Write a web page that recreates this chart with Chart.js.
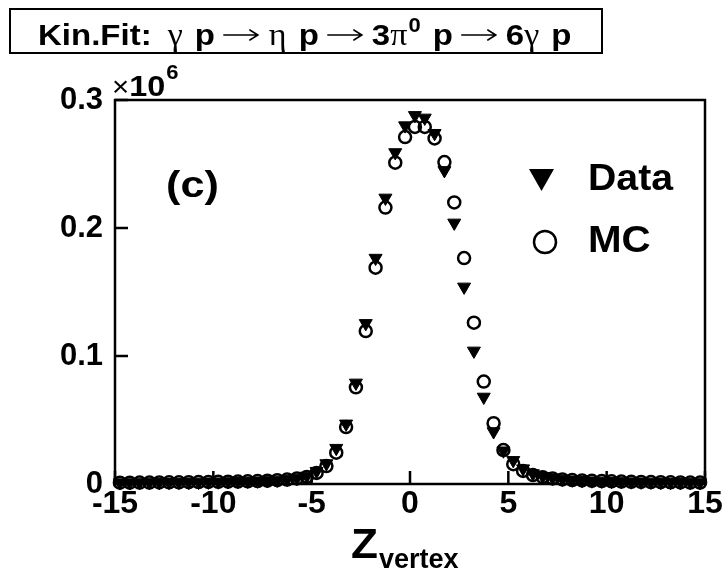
<!DOCTYPE html>
<html>
<head>
<meta charset="utf-8">
<script src="https://cdn.jsdelivr.net/npm/chart.js@4.4.1/dist/chart.umd.min.js"></script>
<style>
  html, body { margin: 0; padding: 0; background: #fff; }
  #zChart { display: block; }
</style>
</head>
<body>
<canvas id="zChart" width="724" height="575"></canvas>
<script>
// Bin centres of the z-vertex histogram (0.5 wide bins)
var zBins = [
  -14.75, -14.25, -13.75, -13.25, -12.75, -12.25, -11.75, -11.25, -10.75, -10.25,
  -9.75, -9.25, -8.75, -8.25, -7.75, -7.25, -6.75, -6.25, -5.75, -5.25,
  -4.75, -4.25, -3.75, -3.25, -2.75, -2.25, -1.75, -1.25, -0.75, -0.25,
  0.25, 0.75, 1.25, 1.75, 2.25, 2.75, 3.25, 3.75, 4.25, 4.75,
  5.25, 5.75, 6.25, 6.75, 7.25, 7.75, 8.25, 8.75, 9.25, 9.75,
  10.25, 10.75, 11.25, 11.75, 12.25, 12.75, 13.25, 13.75, 14.25, 14.75
];

// Entries per bin, measured data
var dataCounts = [
  1100, 1150, 1200, 1250, 1300, 1400, 1450, 1500, 1600, 1700,
  1800, 1950, 2100, 2300, 2500, 2800, 3200, 3800, 4700, 6300,
  10000, 16000, 28000, 47000, 79000, 125500, 176500, 223500, 259000, 280000,
  288000, 286000, 274000, 245000, 204000, 154000, 104000, 68000, 41000, 26000,
  18500, 12000, 8200, 6000, 4800, 3900, 3300, 2900, 2600, 2400,
  2200, 2000, 1850, 1700, 1600, 1500, 1400, 1300, 1250, 1200
];

// Entries per bin, Monte Carlo
var mcCounts = [
  1000, 1050, 1100, 1150, 1200, 1300, 1350, 1400, 1500, 1600,
  1700, 1800, 1950, 2100, 2300, 2600, 3000, 3500, 4300, 5500,
  8600, 14000, 24500, 44500, 75500, 119500, 169000, 216000, 251000, 271000,
  279000, 279000, 270000, 251500, 220000, 176500, 126000, 80000, 47500, 26500,
  15500, 10200, 7000, 5300, 4300, 3600, 3100, 2800, 2500, 2300,
  2100, 1900, 1750, 1600, 1500, 1400, 1300, 1200, 1150, 1100
];

var xTicks = [-15, -10, -5, 0, 5, 10, 15];
var yTicks = [0, 100000, 200000, 300000];

// reaction in the title: text, style (b bold, s symbol, a arrow, sup superscript), gap before
var titleParts = [
  ['Kin.Fit:', 'b', 0], ['\u03b3', 's', 16], ['p', 'b', 12], ['', 'a', 9],
  ['\u03b7', 's', 11], ['p', 'b', 12], ['', 'a', 9], ['3', 'b', 10],
  ['\u03c0', 's', 0], ['0', 'sup', 1], ['p', 'b', 12], ['', 'a', 9],
  ['6', 'b', 10], ['\u03b3', 's', 0], ['p', 'b', 12]
];

var SANS = '"Liberation Sans", Arial, Helvetica, sans-serif';
var SERIF = '"Liberation Serif", "DejaVu Serif", serif';

function toPoints(values) {
  return zBins.map(function (z, i) { return { x: z, y: values[i] }; });
}

// text drawn a little wider than the font, like the ROOT Helvetica output
function wideText(ctx, text, x, y, sx) {
  ctx.save();
  ctx.translate(x, y);
  ctx.scale(sx, 1);
  ctx.fillText(text, 0, 0);
  var w = ctx.measureText(text).width * sx;
  ctx.restore();
  return w;
}

// thin right arrow, as in the symbol font
function arrow(ctx, x, y, len) {
  ctx.save();
  ctx.lineWidth = 1.6;
  ctx.lineCap = 'round';
  ctx.beginPath();
  ctx.moveTo(x, y);
  ctx.lineTo(x + len, y);
  ctx.moveTo(x + len - 8, y - 5);
  ctx.lineTo(x + len, y);
  ctx.lineTo(x + len - 8, y + 5);
  ctx.stroke();
  ctx.restore();
  return len;
}

// Frame around the plot with inward ticks
var framePlugin = {
  id: 'frame',
  beforeDatasetsDraw: function (chart) {
    var ctx = chart.ctx;
    var a = chart.chartArea;
    var xs = chart.scales.x, ys = chart.scales.y;
    ctx.save();
    ctx.strokeStyle = '#000';
    ctx.lineWidth = 2.5;
    ctx.strokeRect(a.left, a.top, a.right - a.left, a.bottom - a.top);
    ctx.beginPath();
    xTicks.forEach(function (v) {
      var px = xs.getPixelForValue(v);
      ctx.moveTo(px, a.bottom);
      ctx.lineTo(px, a.bottom - 13);
    });
    yTicks.forEach(function (v) {
      var py = ys.getPixelForValue(v);
      ctx.moveTo(a.left, py);
      ctx.lineTo(a.left + 13, py);
    });
    ctx.stroke();
    ctx.restore();
  }
};

// Title box, exponent, panel tag, legend and axis title
var textPlugin = {
  id: 'texts',
  afterDraw: function (chart) {
    var ctx = chart.ctx;
    ctx.save();
    ctx.fillStyle = '#000';
    ctx.strokeStyle = '#000';

    // title box
    ctx.lineWidth = 2;
    ctx.strokeRect(10, 9, 592, 44);
    var base = 45, x = 38;
    ctx.textBaseline = 'alphabetic';
    ctx.textAlign = 'left';
    titleParts.forEach(function (p) {
      x += p[2];
      if (p[1] === 'a') { x += arrow(ctx, x, base - 10, 34); return; }
      var y = base;
      if (p[1] === 'b') ctx.font = 'bold 30px ' + SANS;
      else if (p[1] === 's') ctx.font = '31px ' + SERIF;
      else { ctx.font = 'bold 20px ' + SANS; y = base - 13; }
      x += wideText(ctx, p[0], x, y, 1.1);
    });

    // axis exponent
    ctx.font = '28px ' + SANS;
    var w = wideText(ctx, '\u00d7', 112, 96, 1.05);
    ctx.font = 'bold 30px ' + SANS;
    var w2 = wideText(ctx, '10', 112 + w, 96, 1.08);
    ctx.font = 'bold 20px ' + SANS;
    wideText(ctx, '6', 112 + w + w2 + 1, 79, 1.1);

    // panel tag
    ctx.font = 'bold 36px ' + SANS;
    ctx.textBaseline = 'middle';
    wideText(ctx, '(c)', 166, 187, 1.2);

    // legend
    ctx.font = 'bold 36px ' + SANS;
    wideText(ctx, 'Data', 588, 180, 1.09);
    wideText(ctx, 'MC', 588, 242, 1.12);
    ctx.beginPath();
    ctx.moveTo(529, 169);
    ctx.lineTo(554, 169);
    ctx.lineTo(541.5, 191);
    ctx.closePath();
    ctx.fill();
    ctx.lineWidth = 2.5;
    ctx.beginPath();
    ctx.arc(545, 242, 11, 0, Math.PI * 2);
    ctx.stroke();

    // x axis title
    ctx.textBaseline = 'alphabetic';
    ctx.font = 'bold 42px ' + SANS;
    var wz = wideText(ctx, 'Z', 351, 558, 1.05);
    ctx.font = 'bold 27px ' + SANS;
    wideText(ctx, 'vertex', 351 + wz + 1, 568, 1.0);
    ctx.restore();
  }
};

var ctx = document.getElementById('zChart').getContext('2d');
var zChart = new Chart(ctx, {
  type: 'scatter',
  data: {
    datasets: [{
      label: 'MC',
      data: toPoints(mcCounts),
      pointStyle: 'circle',
      pointRadius: 6,
      backgroundColor: 'rgba(0,0,0,0)',
      borderColor: '#000',
      borderWidth: 2.5,
      clip: false,
      order: 0
    }, {
      label: 'Data',
      data: toPoints(dataCounts),
      pointStyle: 'triangle',
      rotation: 180,
      pointRadius: 7.5,
      backgroundColor: '#000',
      borderColor: '#000',
      borderWidth: 1,
      clip: false,
      order: 1
    }]
  },
  options: {
    responsive: false,
    animation: false,
    devicePixelRatio: 1,
    events: [],
    layout: { padding: { left: 0, top: 100, right: 19, bottom: 0 } },
    plugins: {
      legend: { display: false },
      tooltip: { enabled: false }
    },
    scales: {
      x: {
        type: 'linear',
        min: -15,
        max: 15,
        afterBuildTicks: function (s) {
          s.ticks = xTicks.map(function (v) { return { value: v }; });
        },
        afterFit: function (s) { s.height = 91; },
        ticks: {
          color: '#000',
          font: { family: SANS, weight: 'bold', size: 32 },
          padding: 1,
          maxRotation: 0,
          autoSkip: false,
          callback: function (v) { return String(v); }
        },
        grid: { display: false, drawTicks: false, tickLength: 0 },
        border: { display: false }
      },
      y: {
        min: 0,
        max: 300000,
        afterBuildTicks: function (s) {
          s.ticks = yTicks.map(function (v) { return { value: v }; });
        },
        afterFit: function (s) { s.width = 115; },
        ticks: {
          color: '#000',
          font: { family: SANS, weight: 'bold', size: 31 },
          padding: 12,
          callback: function (v) { return v === 0 ? '0' : (v / 1e6).toFixed(1); }
        },
        grid: { display: false, drawTicks: false, tickLength: 0 },
        border: { display: false }
      }
    }
  },
  plugins: [framePlugin, textPlugin]
});
</script>
</body>
</html>
